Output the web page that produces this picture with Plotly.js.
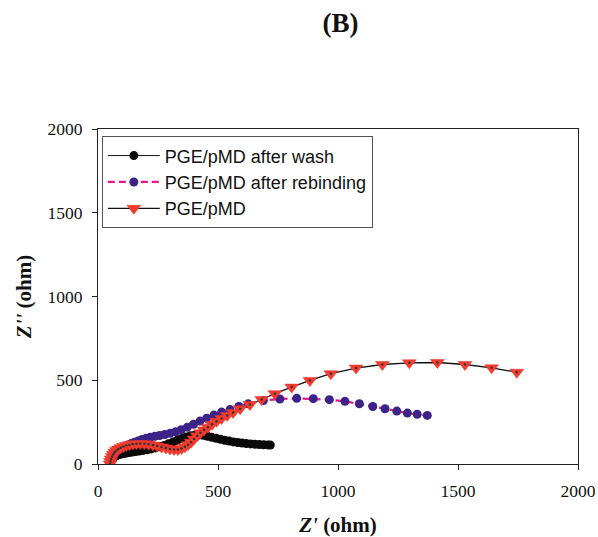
<!DOCTYPE html>
<html>
<head>
<meta charset="utf-8">
<script src="https://cdn.plot.ly/plotly-3.0.1.min.js"></script>
<style>html,body{margin:0;padding:0;background:#fff}#chart{width:598px;height:537px}</style>
</head>
<body>
<div id="chart"></div>
<script>
// PGE/pMD after wash (black circles)
const washX = [50,52,55,58,62,67,73,80,88,97,107,118,130,143,157,172,188,205,222,240,258,276,294,312,330,348,366,384,402,420,438,456,474,492,510,528,546,564,582,600,618,636,654,672,690,708,718];
const washY = [2,12,22,30,37,43,48,52,56,59,62,65,68,71,74,77,81,85,90,96,103,111,121,131,142,152,161,168,172,173,171,166,160,154,148,142,137,132,128,125,122,120,118,116,115,114,113];

// PGE/pMD after rebinding (purple circles, magenta dashed line)
const rebX = [50,53,57,62,68,75,83,92,102,113,125,138,152,167,183,200,218,237,257,278,300,323,347,372,398,425,453,483,515,550,587,626,689,758,828,897,964,1029,1089,1145,1196,1245,1289,1330,1372];
const rebY = [5,20,35,48,60,70,80,89,98,106,114,122,130,138,146,153,160,166,170,176,183,192,205,220,237,256,273,292,310,325,343,359,379,388,392,390,384,374,360,343,330,316,304,297,290];

// PGE/pMD (red triangles, black line)
const pmdX = [50,52,55,59,64,70,77,85,95,106,118,131,145,160,176,193,211,229,247,265,283,300,317,333,348,362,375,388,400,413,427,442,458,475,494,515,538,563,592,633,682,737,807,883,970,1075,1185,1297,1414,1529,1640,1745];
const pmdY = [0,15,30,45,58,70,80,89,97,104,110,115,119,121,122,121,118,113,107,101,95,90,87,86,92,103,115,130,150,168,186,203,220,237,255,272,290,308,330,355,385,420,459,499,539,573,594,604,606,594,574,548];

const seriesNames = ["PGE/pMD after wash", "PGE/pMD after rebinding", "PGE/pMD"];
const tickVals = [0,500,1000,1500,2000];

const traces = [
  {x: washX, y: washY, name: seriesNames[0], mode: 'lines+markers', type: 'scatter',
   line: {color: '#111', width: 1},
   marker: {symbol: 'circle', size: 9, color: '#0a0a0a'}},
  {x: rebX, y: rebY, name: seriesNames[1], mode: 'lines+markers', type: 'scatter',
   line: {color: '#e8178a', width: 2.2, dash: '7px,4px'},
   marker: {symbol: 'circle', size: 9, color: '#3b2388'}},
  {x: pmdX, y: pmdY, name: seriesNames[2], mode: 'lines+markers', type: 'scatter',
   line: {color: '#111', width: 1.3},
   marker: {symbol: 'triangle-down', size: 12, color: '#f43c2e', line: {color: '#e0302a', width: 0.5}}},
  {x: pmdX, y: pmdY, name: 'dots', mode: 'markers', type: 'scatter', showlegend: false, hoverinfo: 'skip',
   marker: {symbol: 'circle', size: 2.5, color: '#333'}}
];

const axisCommon = {
  showgrid: false, zeroline: false, showline: true, linecolor: '#222', linewidth: 1,
  mirror: true, ticks: 'outside', ticklen: 5, tickcolor: '#222', tickwidth: 1,
  tickfont: {family: 'Liberation Serif, Times New Roman, serif', size: 17.5, color: '#111'},
  tickvals: tickVals, ticktext: tickVals.map(String)
};

const layout = {
  width: 598, height: 537,
  margin: {l: 98, r: 20, t: 129, b: 73},
  paper_bgcolor: '#fff', plot_bgcolor: '#fff',
  title: {text: '<b>(B)</b>', x: 0.505, xref: 'paper', y: 0.958, yref: 'container', xanchor: 'center', yanchor: 'middle',
          font: {family: 'Liberation Serif, Times New Roman, serif', size: 27, color: '#111'}},
  xaxis: Object.assign({}, axisCommon, {range: [0, 2000], ticklabelstandoff: 6,
    title: {text: "<b><i>Z'</i> (ohm)</b>", standoff: 18,
            font: {family: 'Liberation Serif, Times New Roman, serif', size: 21, color: '#111'}}}),
  yaxis: Object.assign({}, axisCommon, {range: [0, 2000], ticklabelstandoff: 6,
    title: {text: "<b><i>Z''</i> (ohm)</b>", standoff: 10,
            font: {family: 'Liberation Serif, Times New Roman, serif', size: 21, color: '#111'}}}),
  legend: {x: 0.008, y: 0.978, xanchor: 'left', yanchor: 'top', bgcolor: '#fff',
           bordercolor: '#555', borderwidth: 1, itemwidth: 52, tracegroupgap: 0,
           font: {family: 'Liberation Sans, Arial, sans-serif', size: 18, color: '#111'}},
  showlegend: true
};

Plotly.newPlot('chart', traces, layout, {displayModeBar: false, staticPlot: true});
</script>
</body>
</html>
